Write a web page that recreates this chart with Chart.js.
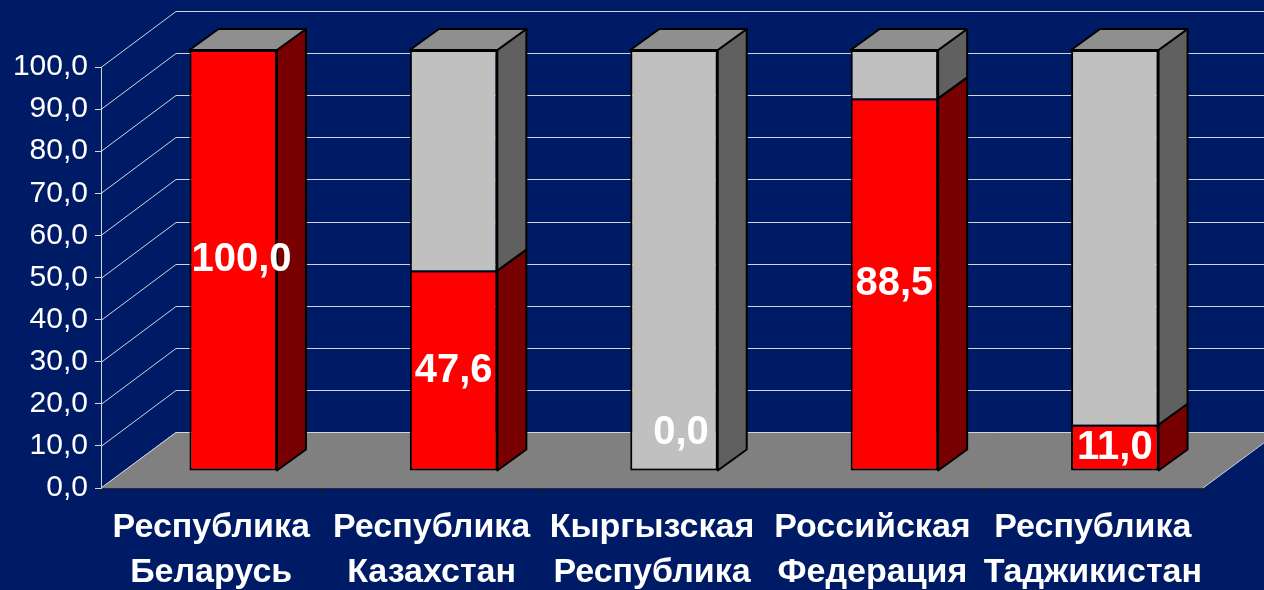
<!DOCTYPE html>
<html>
<head>
<meta charset="utf-8">
<script src="https://cdn.jsdelivr.net/npm/chart.js@4.4.1/dist/chart.umd.min.js"></script>
<style>
  html, body { margin: 0; padding: 0; background: #001b66; }
  #wrap { width: 1264px; height: 590px; }
</style>
</head>
<body>
<div id="wrap"><canvas id="chart" width="1264" height="590"></canvas></div>
<script>
// data
const labels = [
  ['Республика', 'Беларусь'],
  ['Республика', 'Казахстан'],
  ['Кыргызская', 'Республика'],
  ['Российская', 'Федерация'],
  ['Республика', 'Таджикистан']
];
const redValues = [100.0, 47.6, 0.0, 88.5, 11.0];
const greyValues = [0.0, 52.4, 100.0, 11.5, 89.0];
const yTickLabels = ['0,0', '10,0', '20,0', '30,0', '40,0', '50,0', '60,0', '70,0', '80,0', '90,0', '100,0'];

// look of the fake 3d
const BG = '#001b66';
const GRID = '#d2d4e0';
const FONT = 'Arial, "Liberation Sans", sans-serif';
const SHIFT = { x: 22, y: -17 };   // bar front plane vs axis plane
const DEPTH = { x: 29, y: -21 };   // bar depth
const WALL = { x: 75, y: -56 };    // back wall depth
const sideColors = ['#780000', '#606060'];
const topColor = '#8f8f8f';

const fmt = v => v.toFixed(1).replace('.', ',');

function face(ctx, pts, fill) {
  ctx.beginPath();
  ctx.moveTo(pts[0][0], pts[0][1]);
  for (let k = 1; k < pts.length; k++) ctx.lineTo(pts[k][0], pts[k][1]);
  ctx.closePath();
  ctx.fillStyle = fill;
  ctx.fill();
  ctx.stroke();
}

const walls = {
  id: 'walls',
  beforeDraw(chart) {
    const { ctx, chartArea: a } = chart;
    const y = chart.scales.y;
    ctx.save();
    ctx.fillStyle = BG;
    ctx.fillRect(0, 0, chart.width, chart.height);
    ctx.strokeStyle = GRID;
    ctx.lineWidth = 1;
    y.ticks.forEach(t => {
      const py = Math.round(y.getPixelForValue(t.value)) + 0.5;
      ctx.beginPath();
      ctx.moveTo(a.left, py);
      ctx.lineTo(a.left + WALL.x, py + WALL.y);
      ctx.lineTo(chart.width, py + WALL.y);
      ctx.stroke();
    });
    // floor
    const y0 = y.getPixelForValue(0);
    ctx.beginPath();
    ctx.moveTo(a.left, y0);
    ctx.lineTo(a.left + WALL.x, y0 + WALL.y);
    ctx.lineTo(a.right + WALL.x, y0 + WALL.y);
    ctx.lineTo(a.right, y0);
    ctx.closePath();
    ctx.fillStyle = '#808080';
    ctx.fill();
    ctx.beginPath();
    ctx.moveTo(a.left, y0);
    ctx.lineTo(a.left + WALL.x, y0 + WALL.y + 0.5);
    ctx.lineTo(a.right + WALL.x, y0 + WALL.y + 0.5);
    ctx.lineTo(a.right, y0);
    ctx.stroke();
    ctx.restore();
  }
};

const bars3d = {
  id: 'bars3d',
  beforeDatasetsDraw(chart) {
    const ctx = chart.ctx;
    const metas = [chart.getDatasetMeta(0), chart.getDatasetMeta(1)];
    ctx.save();
    ctx.lineWidth = 2;
    ctx.strokeStyle = '#000';
    ctx.lineJoin = 'round';
    labels.forEach((_, i) => {
      metas.forEach((meta, d) => {
        const el = meta.data[i];
        if (Math.abs(el.base - el.y) < 0.5) return;
        const r = el.x + el.width / 2 + SHIFT.x;
        const top = el.y + SHIFT.y, bot = el.base + SHIFT.y;
        face(ctx, [[r, top], [r + DEPTH.x, top + DEPTH.y], [r + DEPTH.x, bot + DEPTH.y], [r, bot]], sideColors[d]);
      });
      const el = metas[1].data[i];
      const l = el.x - el.width / 2 + SHIFT.x;
      const r = el.x + el.width / 2 + SHIFT.x;
      const top = Math.min(metas[0].data[i].y, el.y) + SHIFT.y;
      face(ctx, [[l, top], [l + DEPTH.x, top + DEPTH.y], [r + DEPTH.x, top + DEPTH.y], [r, top]], topColor);
    });
    ctx.restore();
    ctx.save();
    ctx.translate(SHIFT.x, SHIFT.y);
  },
  afterDatasetsDraw(chart) {
    const ctx = chart.ctx;
    ctx.restore();
    ctx.save();
    ctx.font = 'bold 40px ' + FONT;
    ctx.fillStyle = '#fff';
    ctx.textAlign = 'center';
    ctx.textBaseline = 'middle';
    chart.getDatasetMeta(0).data.forEach((el, i) => {
      const txt = fmt(redValues[i]);
      const w = ctx.measureText(txt).width;
      const left = el.x - el.width / 2 + SHIFT.x;
      let cx = Math.max(el.x + SHIFT.x, left + 2 + w / 2);
      let cy = (el.y + el.base) / 2 + SHIFT.y;
      if (el.base - el.y < 30) { cy = el.base + SHIFT.y - 38; cx += 7; }
      ctx.fillText(txt, cx, cy);
    });
    ctx.restore();
  }
};

window.onload = drawChart();
function drawChart() {
  Chart.defaults.font.family = FONT;
  Chart.defaults.color = '#fff';

  const data = {
    labels: labels,
    datasets: [{
      label: 'red',
      data: redValues,
      backgroundColor: '#ff0000',
      borderColor: '#000',
      borderWidth: 2,
      borderSkipped: false,
      clip: false
    }, {
      label: 'grey',
      data: greyValues,
      backgroundColor: '#c0c0c0',
      borderColor: '#000',
      borderWidth: 2,
      borderSkipped: c => redValues[c.dataIndex] > 0 ? 'start' : false,
      clip: false
    }]
  };

  const config = {
    type: 'bar',
    data: data,
    options: {
      responsive: false,
      animation: false,
      layout: { padding: { top: 67, right: 61, left: 0, bottom: 0 } },
      categoryPercentage: 0.397,
      barPercentage: 1,
      plugins: { legend: { display: false }, tooltip: { enabled: false } },
      scales: {
        x: {
          stacked: true,
          grid: { drawOnChartArea: false, tickLength: 7, color: '#1a1a1a', offset: true },
          border: { color: '#2a2a2a' },
          ticks: {
            autoSkip: false, maxRotation: 0, color: '#fff', padding: 10,
            font: { size: 34, weight: 'bold', lineHeight: 1.33 }
          },
          afterFit: s => { s.height = 102; }
        },
        y: {
          stacked: true,
          min: 0,
          max: 100,
          ticks: {
            stepSize: 10, color: '#fff', padding: 7,
            font: { size: 30 },
            callback: (v, i) => yTickLabels[i]
          },
          grid: { drawOnChartArea: false, tickLength: 6, color: GRID },
          border: { color: GRID },
          afterFit: s => { s.width = 101; }
        }
      }
    },
    plugins: [walls, bars3d]
  };

  const chart = new Chart(document.getElementById('chart'), config);
}
</script>
</body>
</html>
